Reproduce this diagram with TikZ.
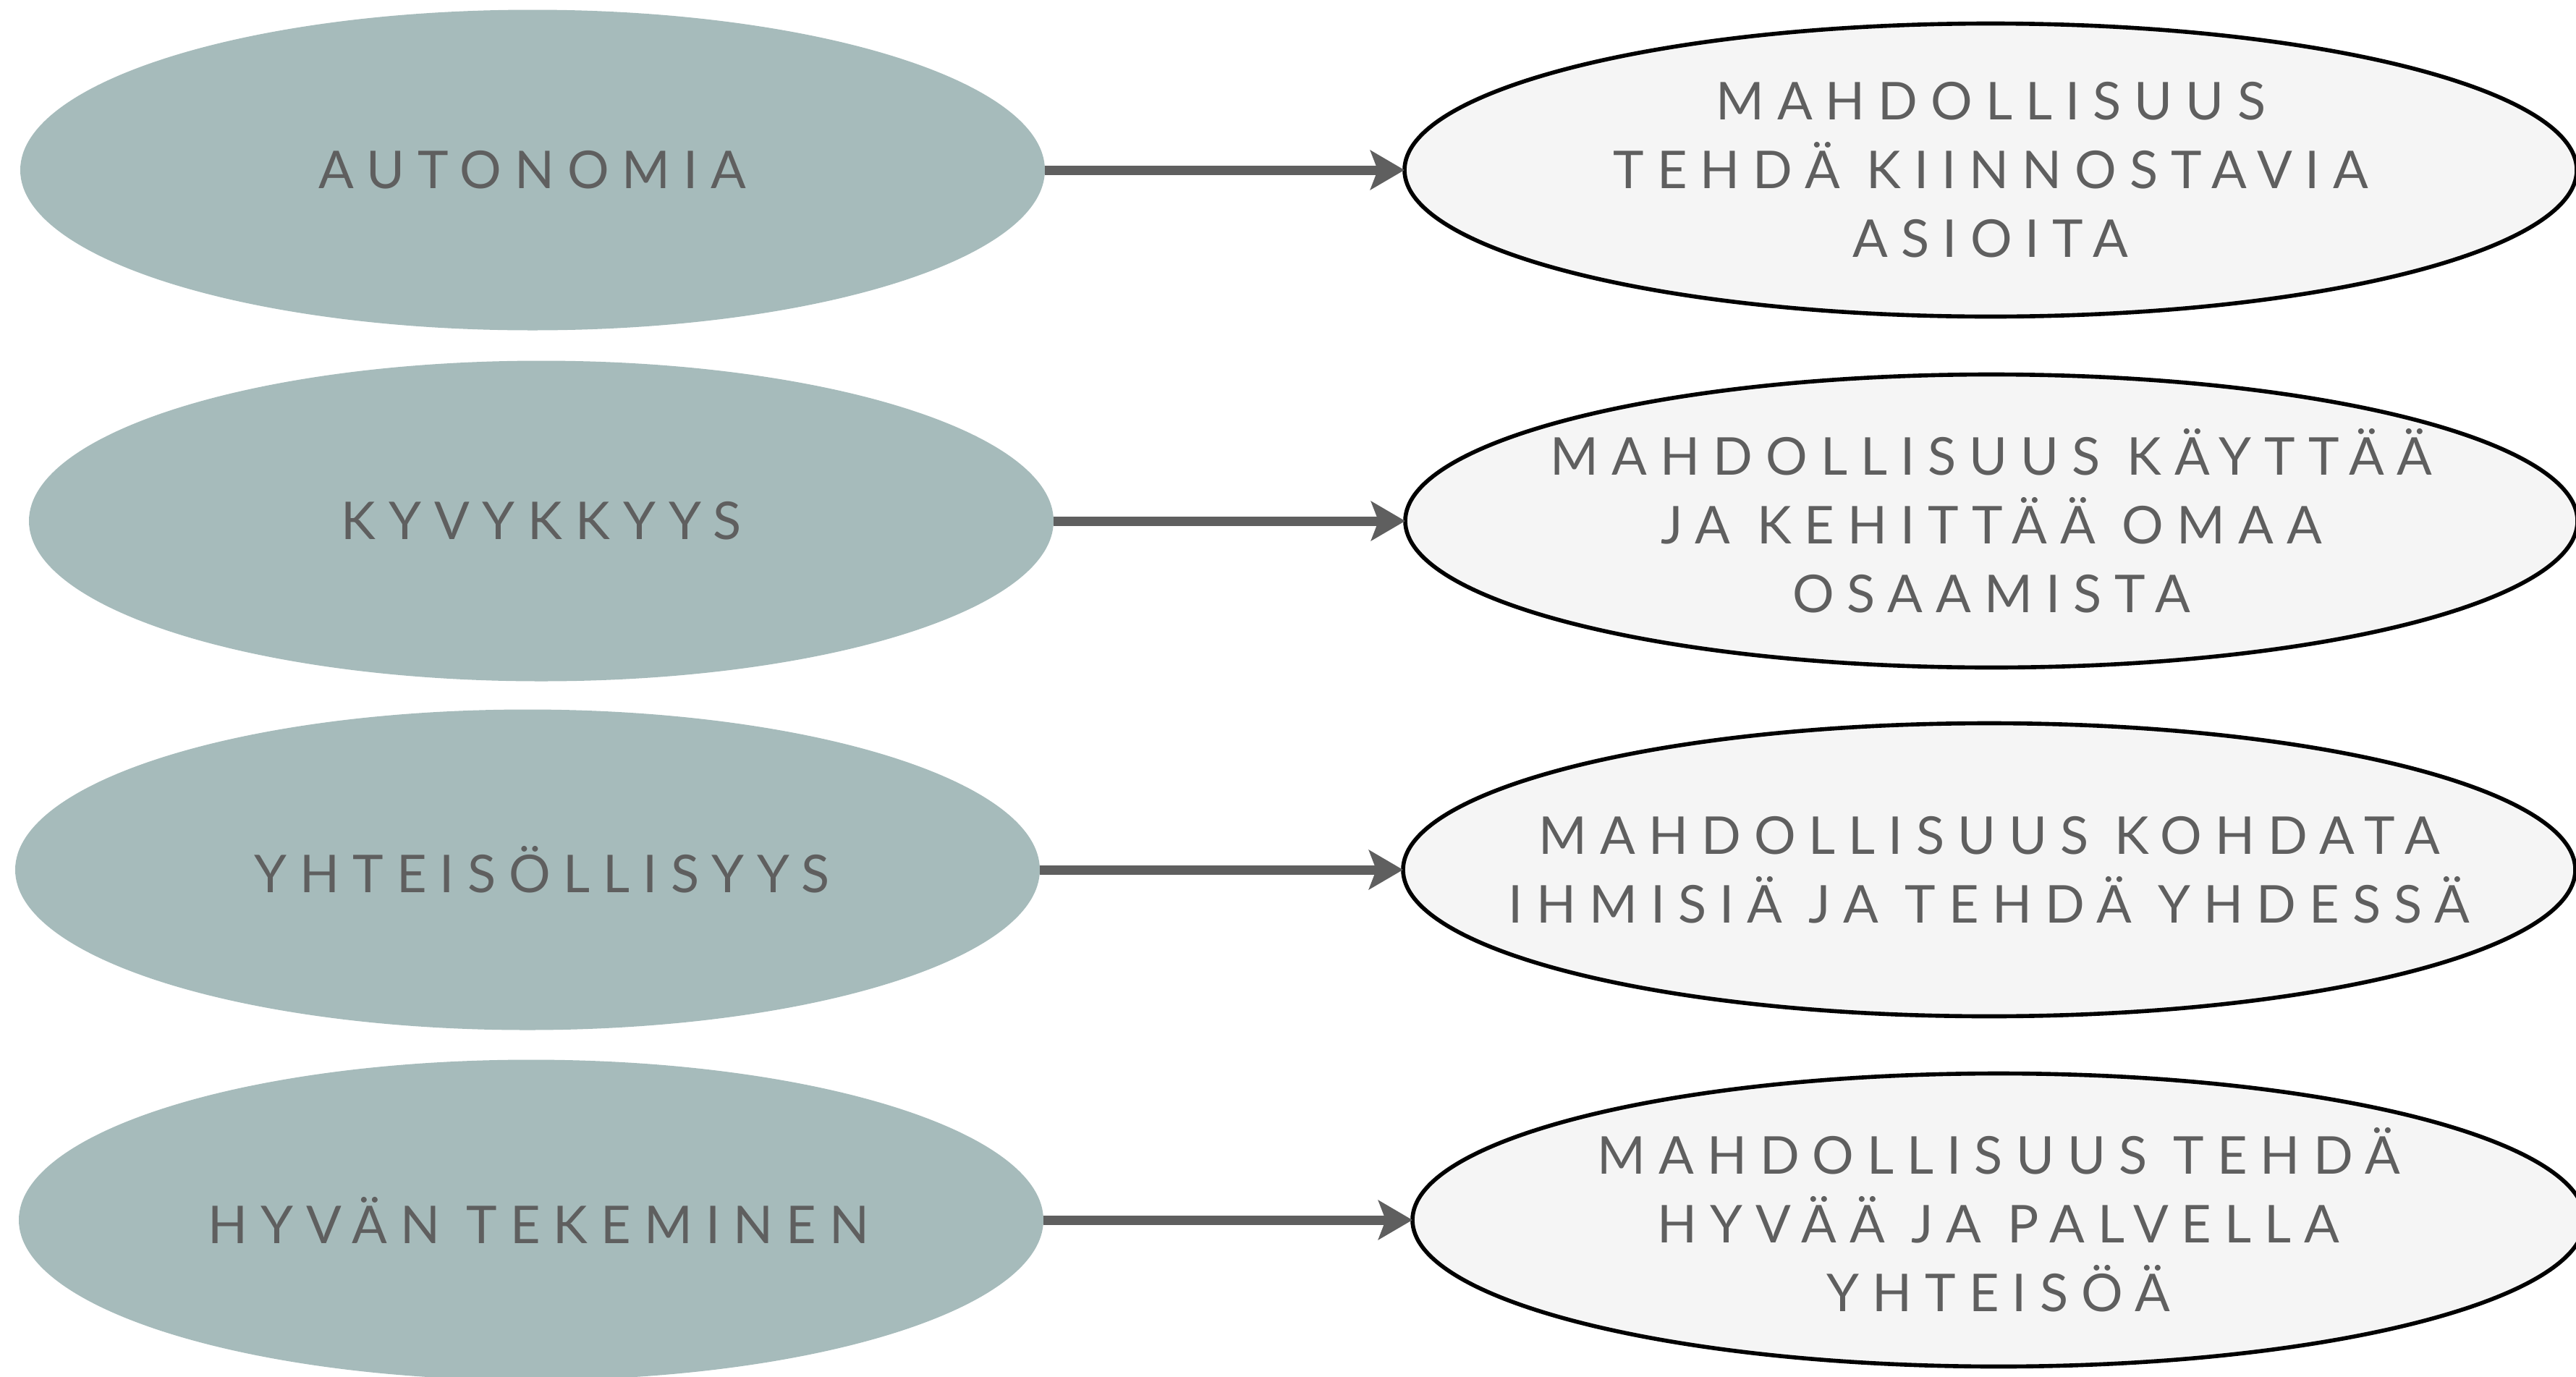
\documentclass[tikz,border=0pt]{standalone}
\usepackage{fontspec}
\usepackage{xcolor}
\usepackage{tikz}
\usetikzlibrary{arrows.meta, positioning, shapes.geometric}
\newfontfamily\lblfont[LetterSpace=25]{Lato}
\definecolor{sage}{HTML}{A6BBBB}
\definecolor{pale}{HTML}{F5F5F5}
\definecolor{ink}{HTML}{5F5F5F}

\begin{document}
\begin{tikzpicture}[
  node distance=4.95cm,
  every node/.style={font=\lblfont\fontsize{20.5}{27}\selectfont, text=ink},
  need/.style={ellipse, fill=sage, minimum width=14.16cm, minimum height=4.43cm, inner xsep=-1.5cm, inner ysep=0pt, outer sep=0pt, align=center},
  chance/.style={ellipse, draw=black, line width=1.6pt, fill=pale, minimum width=16.2cm, minimum height=4.05cm, inner xsep=-1.8cm, inner ysep=0pt, outer sep=0pt, align=center},
  link/.style={-{Stealth[length=0.47cm, width=0.54cm, inset=0.1cm]}, line width=0.13cm, draw=ink}
]
  \useasboundingbox (0,0) rectangle (35.6,-19.02);

  \node[need] (aut) at (7.36,-2.35) {AUTONOMIA};
  \node[need] (kyv) at (7.48,-7.20) {KYVYKKYYS};
  \node[need] (yht) at (7.29,-12.02) {\hspace*{0.4cm}YHTEISÖLLISYYS};
  \node[need] (hyv) at (7.34,-16.86) {\hspace*{0.2cm}HYVÄN TEKEMINEN};

  \node[chance, right=4.97cm of aut] (autm) {MAHDOLLISUUS\\TEHDÄ KIINNOSTAVIA\\ASIOITA};
  \node[chance, right=4.86cm of kyv] (kyvm) {MAHDOLLISUUS KÄYTTÄÄ\\JA KEHITTÄÄ OMAA\\OSAAMISTA};
  \node[chance, right=5.02cm of yht] (yhtm) {MAHDOLLISUUS KOHDATA\\IHMISIÄ JA TEHDÄ YHDESSÄ};
  \node[chance, right=5.1cm of hyv] (hyvm) {MAHDOLLISUUS TEHDÄ\\HYVÄÄ JA PALVELLA\\YHTEISÖÄ};

  \foreach \a/\b in {aut/autm, kyv/kyvm, yht/yhtm, hyv/hyvm}
    \draw[link] (\a) -- (\b);
\end{tikzpicture}
\end{document}
